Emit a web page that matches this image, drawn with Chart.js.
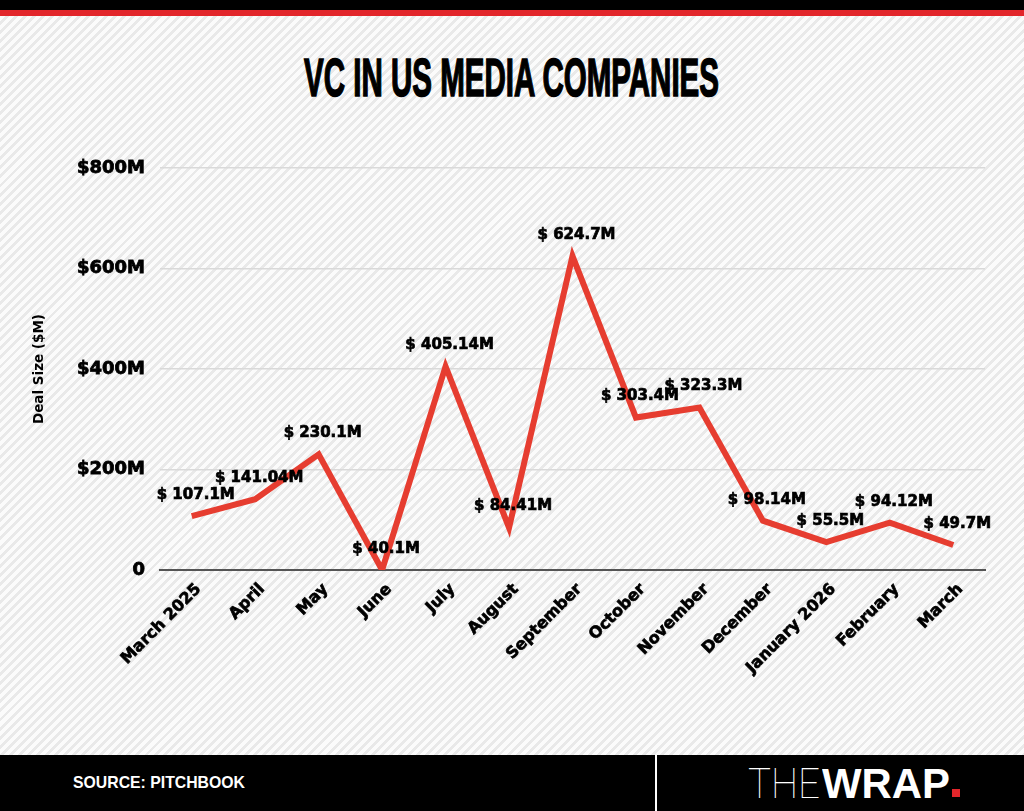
<!DOCTYPE html>
<html>
<head>
<meta charset="utf-8">
<script src="https://cdn.jsdelivr.net/npm/chart.js@4.4.1/dist/chart.umd.min.js"></script>
<style>
  html, body { margin: 0; padding: 0; }
  body { width: 1024px; height: 811px; position: relative; overflow: hidden; background: #fafafa; }
  #stripes { position: absolute; left: 0; top: 16px; width: 1024px; height: 739px;
    background: repeating-linear-gradient(135deg, #fbfbfb 0px, #fbfbfb 3.6px, #e9e9e9 3.6px, #e9e9e9 6.4px); }
  #topBlack { position: absolute; left: 0; top: 0; width: 1024px; height: 10px; background: #000; }
  #topRed { position: absolute; left: 0; top: 10px; width: 1024px; height: 6px; background: #e2262b; }
  #title { position: absolute; top: 48px; left: 0; width: 1024px; text-align: center; }
  #title span { display: inline-block; font-family: 'Liberation Sans Narrow', 'Liberation Sans', sans-serif;
    font-weight: bold; font-size: 53px; line-height: 60px; color: #000; transform-origin: 50% 50%; white-space: nowrap;
    -webkit-text-stroke: 1.6px #000; }
  #footer { position: absolute; left: 0; top: 755px; width: 1024px; height: 56px; background: #000; }
  #divider { position: absolute; left: 655px; top: 0; width: 2px; height: 56px; background: #fff; }
  #source { position: absolute; left: 73px; top: 17px; font-family: 'Liberation Sans Narrow', 'Liberation Sans', sans-serif;
    font-weight: bold; font-size: 17px; line-height: 22px; color: #fff; white-space: nowrap; transform-origin: 0 50%; }
  .logo { position: absolute; top: 4px; line-height: 50px; font-size: 42px; color: #fff; white-space: nowrap; transform-origin: 0 50%; }
  #the { left: 748px; font-family: Roboto, 'Open Sans', sans-serif; font-weight: 100; }
  #wrap { left: 822px; font-family: 'Liberation Sans', sans-serif; font-weight: bold; }
  #dot { position: absolute; left: 952px; top: 34px; width: 8px; height: 8px; background: #e2262b; }
  canvas { position: absolute; left: 0; top: 0; }
</style>
</head>
<body>
<div id="stripes"></div>
<div id="topBlack"></div>
<div id="topRed"></div>
<div id="title"><span id="titleText">VC IN US MEDIA COMPANIES</span></div>
<canvas id="chart" width="1024" height="811"></canvas>
<div id="footer">
  <div id="divider"></div>
  <div id="source">SOURCE: PITCHBOOK</div>
  <div class="logo" id="the">THE</div>
  <div class="logo" id="wrap">WRAP</div>
  <div id="dot"></div>
</div>
<script>
// ---- data ----
const categories = ['March 2025', 'April', 'May', 'June', 'July', 'August', 'September',
  'October', 'November', 'December', 'January 2026', 'February', 'March'];
const dealSize = [107.1, 141.04, 230.1, 0, 405.14, 84.41, 624.7, 303.4, 323.3, 98.14, 55.5, 94.12, 49.7];
const pointLabels = ['$ 107.1M', '$ 141.04M', '$ 230.1M', '$ 40.1M', '$ 405.14M', '$ 84.41M', '$ 624.7M',
  '$ 303.4M', '$ 323.3M', '$ 98.14M', '$ 55.5M', '$ 94.12M', '$ 49.7M'];
const yTicks = [0, 200, 400, 600, 800];
const yTickLabels = ['0', '$200M', '$400M', '$600M', '$800M'];
const axisTitle = 'Deal Size ($M)';

// fit header / footer text widths
function fitWidth(id, target) {
  const el = document.getElementById(id);
  const w = el.getBoundingClientRect().width;
  el.style.transform = 'scaleX(' + (target / w) + ')';
}
fitWidth('titleText', 415);
fitWidth('source', 172);
fitWidth('the', 72);
fitWidth('wrap', 128);

const labelPlugin = {
  id: 'pointText',
  afterDatasetsDraw(chart) {
    const ctx = chart.ctx;
    const meta = chart.getDatasetMeta(0);
    ctx.save();
    ctx.font = 'bold 15px "DejaVu Sans", sans-serif';
    ctx.fillStyle = '#000';
    ctx.strokeStyle = '#000';
    ctx.lineWidth = 0.7;
    ctx.textAlign = 'center';
    ctx.textBaseline = 'middle';
    meta.data.forEach((pt, i) => {
      ctx.fillText(pointLabels[i], pt.x + 4, pt.y - 21);
      ctx.strokeText(pointLabels[i], pt.x + 4, pt.y - 21);
    });
    ctx.restore();
  }
};

new Chart(document.getElementById('chart'), {
  type: 'line',
  data: {
    labels: categories,
    datasets: [{
      data: dealSize,
      borderColor: '#e63d30',
      borderWidth: 6,
      tension: 0,
      pointRadius: 0,
      pointHoverRadius: 0,
      borderJoinStyle: 'miter',
      fill: false
    }]
  },
  options: {
    responsive: false,
    animation: false,
    devicePixelRatio: 1,
    layout: { padding: { left: 0, right: 39, top: 168, bottom: 121 } },
    plugins: { legend: { display: false }, tooltip: { enabled: false }, title: { display: false } },
    scales: {
      x: {
        type: 'category',
        offset: true,
        grid: { display: false, drawTicks: false },
        border: { display: true, color: '#555', width: 2 },
        ticks: {
          color: '#000',
          textStrokeColor: '#000',
          textStrokeWidth: 0.7,
          font: { family: 'DejaVu Sans', weight: 'bold', size: 16 },
          minRotation: 45, maxRotation: 45,
          padding: 10,
          labelOffset: 7,
          autoSkip: false
        },
        afterFit(scale) { scale.height = 120; }
      },
      y: {
        min: 0, max: 800,
        afterBuildTicks(scale) { scale.ticks = yTicks.map(v => ({ value: v })); },
        grid: {
          drawTicks: false,
          color: (c) => (c.tick && c.tick.value === 0) ? 'rgba(0,0,0,0)' : '#d9d9d9',
          lineWidth: 1.5
        },
        border: { display: false },
        ticks: {
          color: '#000',
          textStrokeColor: '#000',
          textStrokeWidth: 0.8,
          padding: 15,
          font: { family: 'DejaVu Sans', weight: 'bold', size: 18 },
          callback: (v) => yTickLabels[yTicks.indexOf(v)]
        },
        title: {
          display: true,
          text: axisTitle,
          color: '#000',
          font: { family: 'DejaVu Sans', weight: 'bold', size: 13.5 },
          padding: { top: 31, bottom: 0 }
        },
        afterFit(scale) { scale.width = 160; }
      }
    }
  },
  plugins: [labelPlugin]
});
</script>
</body>
</html>
